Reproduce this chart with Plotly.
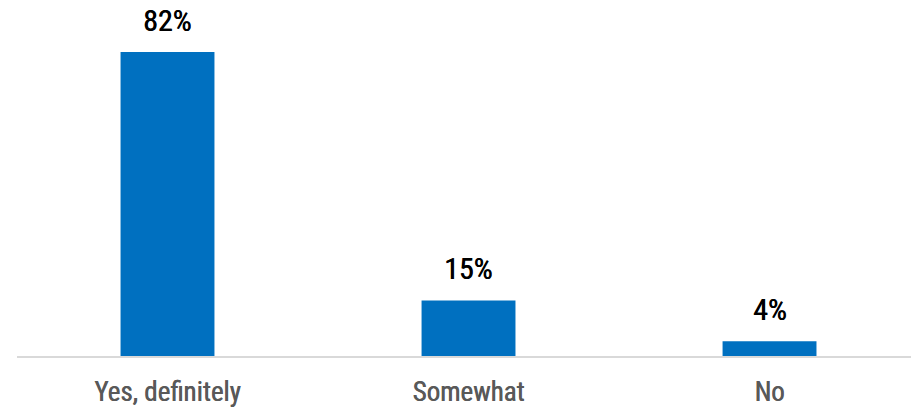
import plotly.graph_objects as go

categories = ["Yes, definitely", "Somewhat", "No"]
values = [82, 15, 4]
labels = ["82%", "15%", "4%"]

BAR_COLOR = "#0070C0"
FONT = "Roboto Condensed, DejaVu Sans Condensed, sans-serif"

fig = go.Figure(
    go.Bar(
        x=categories,
        y=values,
        marker=dict(color=BAR_COLOR, line=dict(width=0)),
        width=0.312,
        hoverinfo="skip",
    )
)

# Value labels above each bar
for cat, val, lab in zip(categories, values, labels):
    fig.add_annotation(
        x=cat, y=val, text=lab, showarrow=False,
        yanchor="bottom", yshift=12,
        font=dict(family=FONT, size=30, color="#000000",
                  shadow="0.5px 0 0 #000000"),
    )

fig.update_layout(
    width=911, height=407,
    margin=dict(l=17, r=0, t=0, b=51),
    paper_bgcolor="white", plot_bgcolor="white",
    showlegend=False,
    font=dict(family=FONT),
    xaxis=dict(
        range=[-0.5, 2.47],
        automargin=False,
        showline=True, linecolor="#D9D9D9", linewidth=2,
        ticks="", showgrid=False,
        tickfont=dict(family=FONT, size=27, color="#595959",
                      shadow="0.5px 0 0 #595959"),
        ticklabelstandoff=11,
    ),
    yaxis=dict(
        range=[0, 96], visible=False, showgrid=False, zeroline=False,
        automargin=False,
    ),
)

fig.write_html("out.html")
